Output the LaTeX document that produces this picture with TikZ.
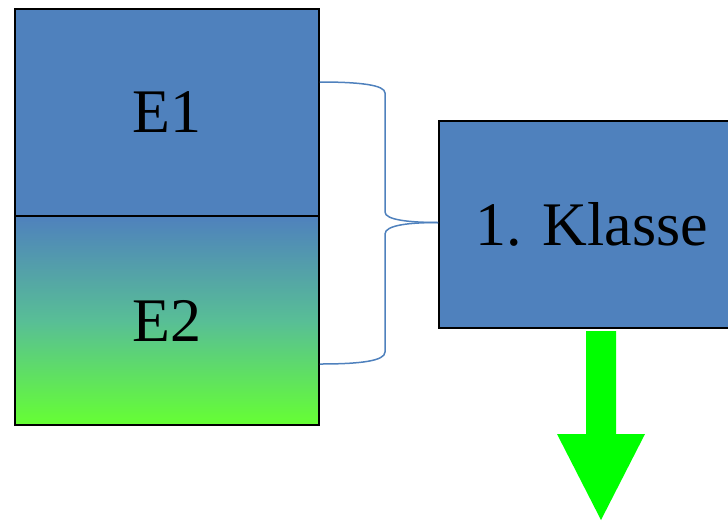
\documentclass[tikz,border=0pt]{standalone}
\usepackage{fontspec}
\setmainfont{Liberation Serif}
\definecolor{boxblue}{RGB}{79,129,189}
\definecolor{boxgreen}{RGB}{102,255,51}
\definecolor{arrowgreen}{RGB}{0,255,0}
\begin{document}
\begin{tikzpicture}[x=1pt,y=-1pt,
  blk/.style={draw=black,line width=1.6pt,rectangle,inner sep=0pt,
    font=\fontsize{62}{70}\selectfont,text=black},
  brace/.style={draw=boxblue,line width=1.5pt}]
\useasboundingbox (0,0) rectangle (728,520);
\clip (0,0) rectangle (728,520);
% left stacked boxes
\node[blk,fill=boxblue,minimum width=304pt,minimum height=207pt] (e1) at (167,112.5) {E1};
\node[blk,top color=boxblue,bottom color=boxgreen,middle color={rgb,255:red,88;green,190;blue,150},
  minimum width=304pt,minimum height=209pt] (e2) at (167,320.5) {E2};
% right box (extends past the right edge)
\node[blk,fill=boxblue,minimum width=306pt,minimum height=207pt] (k) at (592,224.5) {1. Klasse};
% brace
\coordinate (b1) at (e1.east |- 0,82);
\coordinate (b2) at (e2.east |- 0,364);
\coordinate (bm) at (k.west |- 0,222.5);
\draw[brace] (b1) .. controls (360,82) and (385,85) .. (385,93) -- (385,212)
  .. controls (385,220) and (410,222.5) .. (bm);
\draw[brace] (bm) .. controls (410,222.5) and (385,225) .. (385,234) -- (385,352)
  .. controls (385,361) and (360,364) .. (b2);
% green arrow
\fill[arrowgreen] (586,331) -- (616,331) -- (616,434) -- (645,434) -- (601,520)
  -- (557,434) -- (586,434) -- cycle;
\end{tikzpicture}
\end{document}
